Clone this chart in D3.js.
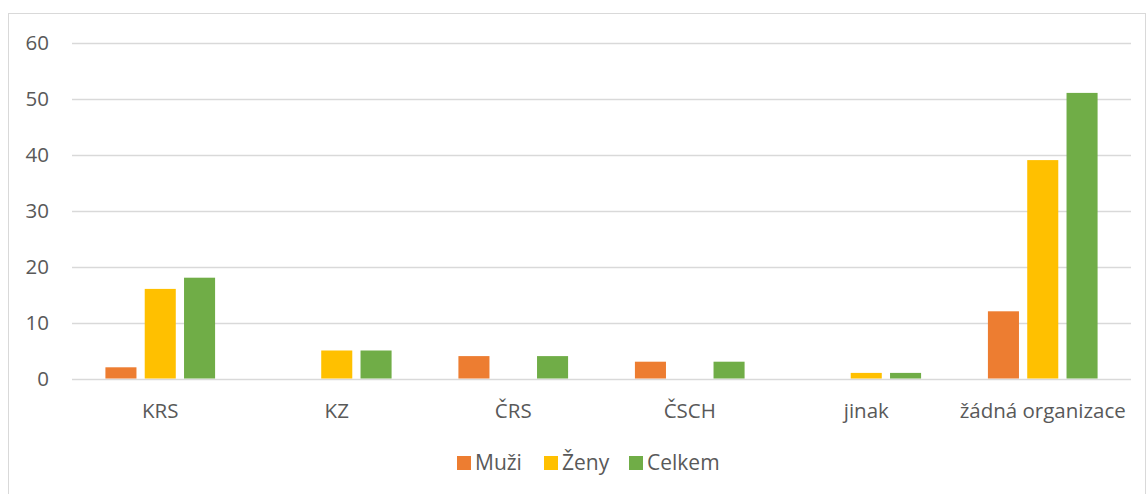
<!DOCTYPE html>
<html>
  <head>
    <meta charset="utf-8">
    <title>Organizace</title>
    <style>
      body { margin: 0; background: #fff; }
      text { font-family: "Open Sans", "Liberation Sans", sans-serif; fill: #595959; }
    </style>
  </head>
  <body>
    <svg id="chart" width="1147" height="494"></svg>
    <script src="https://d3js.org/d3.v7.min.js"></script>
    <script>
      // data
      var categories = ['KRS', 'KZ', 'ČRS', 'ČSCH', 'jinak', 'žádná organizace'];
      var seriesNames = ['Muži', 'Ženy', 'Celkem'];
      var muzi = [2, 0, 4, 3, 0, 12];
      var zeny = [16, 5, 0, 0, 1, 39];
      var celkem = [18, 5, 4, 3, 1, 51];
      var yTicks = [0, 10, 20, 30, 40, 50, 60];
      var colors = ['#ED7D31', '#FFC000', '#70AD47'];

      var values = [muzi, zeny, celkem];

      const svg = d3.select('#chart');

      // chart frame
      svg.append('rect')
        .attr('x', 8.5).attr('y', 13.5)
        .attr('width', 1137).attr('height', 500)
        .attr('fill', 'none')
        .attr('stroke', '#d9d9d9');

      const plotL = 72, plotR = 1131, plotT = 42.5, plotB = 378.5;

      const x0 = d3.scaleBand().domain(categories).range([plotL, plotR]).padding(0);
      const x1 = d3.scaleBand().domain(seriesNames)
        .range([0, x0.bandwidth()])
        .paddingInner(0.21)
        .paddingOuter(0.85);
      const y = d3.scaleLinear().domain([0, 60]).range([plotB, plotT]);

      // gridlines
      svg.append('g')
        .selectAll('line')
        .data(yTicks)
        .join('line')
          .attr('x1', plotL).attr('x2', plotR)
          .attr('y1', d => Math.round(y(d)) + 0.5)
          .attr('y2', d => Math.round(y(d)) + 0.5)
          .attr('stroke', '#d9d9d9')
          .attr('stroke-width', 1.3);

      // y labels
      svg.append('g')
        .selectAll('text')
        .data(yTicks)
        .join('text')
          .attr('x', 49)
          .attr('y', d => y(d))
          .attr('dy', '0.35em')
          .attr('text-anchor', 'end')
          .style('font-size', '20.5px')
          .text(d => d);

      // bars
      seriesNames.forEach(function (name, si) {
        svg.append('g')
          .attr('fill', colors[si])
          .selectAll('rect')
          .data(categories)
          .join('rect')
            .attr('x', c => x0(c) + x1(name))
            .attr('width', x1.bandwidth())
            .attr('y', (c, i) => y(values[si][i]))
            .attr('height', (c, i) => y(0) - y(values[si][i]));
      });

      // x labels
      svg.append('g')
        .selectAll('text')
        .data(categories)
        .join('text')
          .attr('x', c => x0(c) + x0.bandwidth() / 2)
          .attr('y', 411)
          .attr('dy', '0.35em')
          .attr('text-anchor', 'middle')
          .style('font-size', '20.5px')
          .text(c => c);

      // legend
      const legendX = [457, 544, 629];
      const legend = svg.append('g')
        .selectAll('g')
        .data(seriesNames)
        .join('g')
          .attr('transform', (d, i) => 'translate(' + legendX[i] + ',456)');
      legend.append('rect')
        .attr('width', 14).attr('height', 14)
        .attr('fill', (d, i) => colors[i]);
      legend.append('text')
        .attr('x', 18).attr('y', 7)
        .attr('dy', '0.35em')
        .style('font-size', '21px')
        .text(d => d);
    </script>
  </body>
</html>
